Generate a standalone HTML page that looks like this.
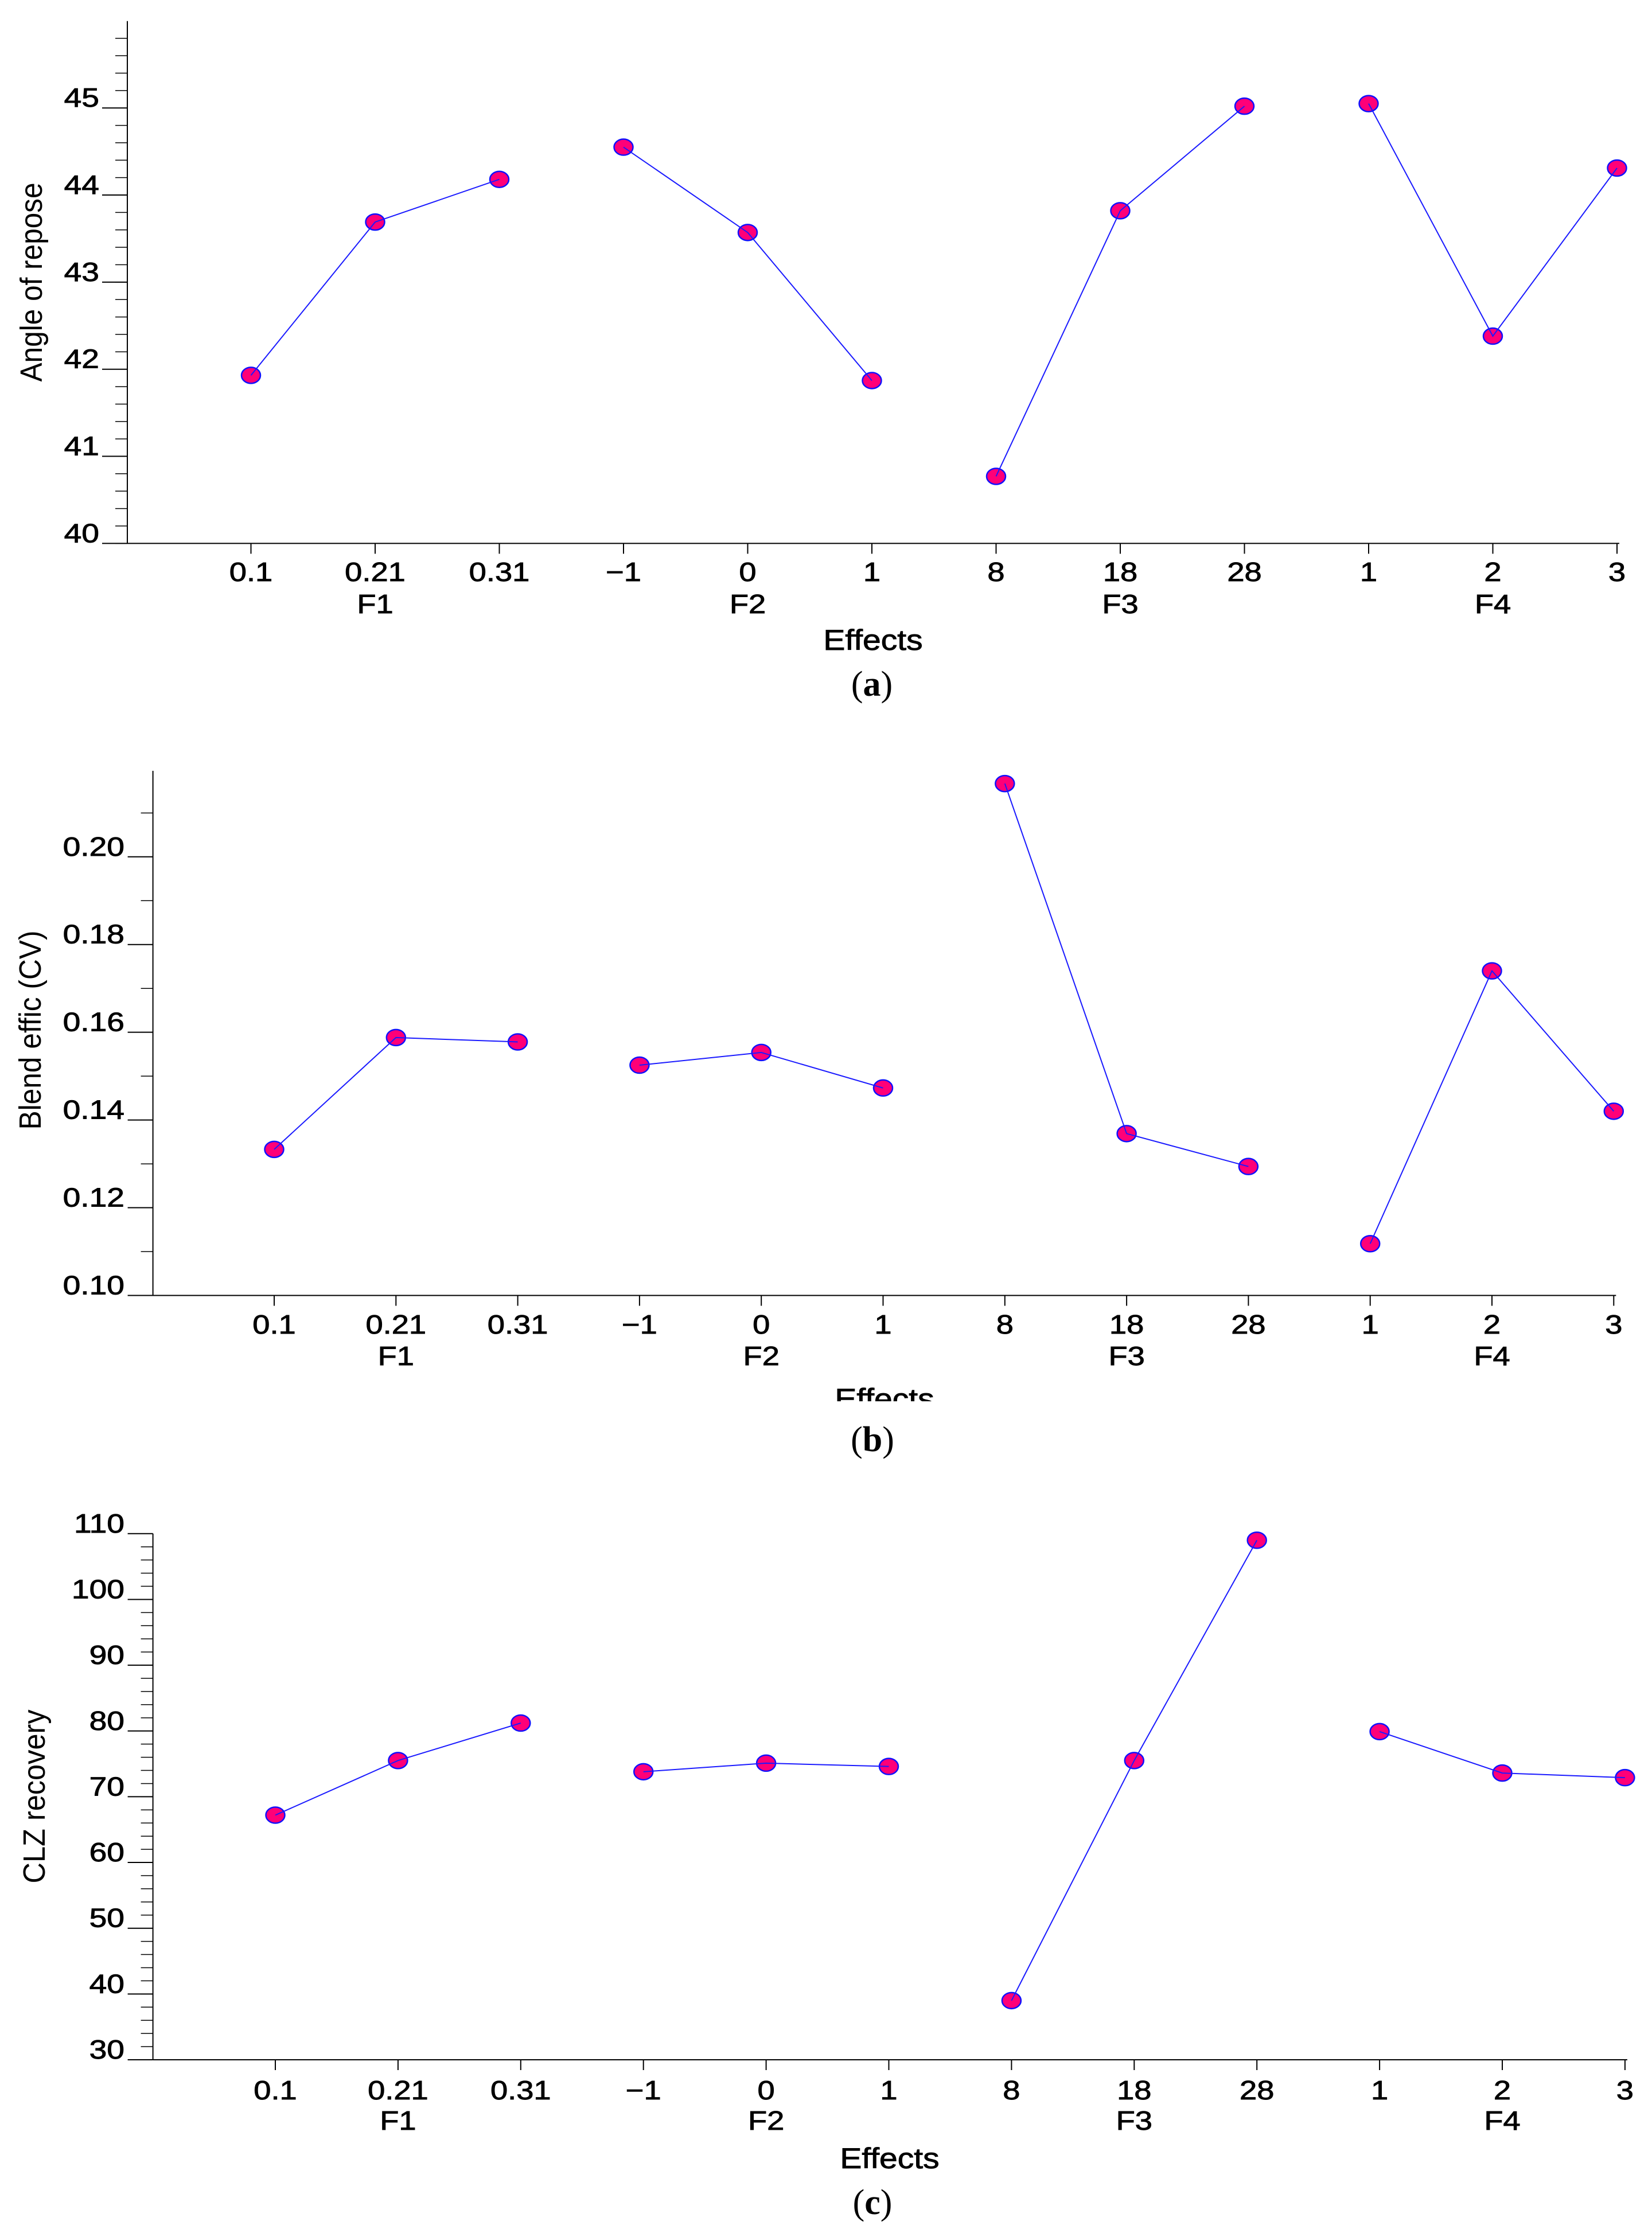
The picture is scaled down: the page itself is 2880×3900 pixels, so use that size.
<!DOCTYPE html>
<html><head><meta charset="utf-8">
<style>
html,body{margin:0;padding:0;background:#fff;}
svg{display:block;}
text{font-family:"Liberation Sans",Arial,sans-serif;fill:#000;}
text.bt{stroke:#000;stroke-width:0.9px;}
</style></head>
<body>
<svg id="chart" width="2880" height="3900" viewBox="0 0 2880 3900" xmlns="http://www.w3.org/2000/svg">
<rect x="0" y="0" width="2880" height="3900" fill="#fff"/>
</svg>
<script>
// ---- data ----
const levelLabels = ["0.1","0.21","0.31","\u22121","0","1","8","18","28","1","2","3"];
const factorNames = ["F1","F2","F3","F4"];
const angleValues = [41.93,43.69,44.18,44.55,43.57,41.87,40.77,43.82,45.02,45.05,42.38,44.31];
const blendValues = [0.1333,0.1588,0.1578,0.1525,0.1554,0.1473,0.2167,0.1369,0.1294,0.1118,0.1740,0.1420];
const clzValues = [67.2,75.5,81.2,73.8,75.1,74.6,39.0,75.5,109.0,79.9,73.6,72.9];
const angleTicks = ["40","41","42","43","44","45"];
const blendTicks = ["0.10","0.12","0.14","0.16","0.18","0.20"];
const clzTicks = ["30","40","50","60","70","80","90","100","110"];

const NS = "http://www.w3.org/2000/svg";
const svg = document.getElementById("chart");
function mk(tag, attrs, parent) {
  const e = document.createElementNS(NS, tag);
  for (const k in attrs) e.setAttribute(k, attrs[k]);
  (parent || svg).appendChild(e);
  return e;
}

const panels = [
  {id:"a", title:"Angle of repose", values:angleValues, ticks:angleTicks,
   axisX:222, bottom:947.4, yMin:40, yRefV:45, yRefPx:188.2, top:36.7,
   minorStep:0.2, minorMax:45.8, labelRight:173,
   x0:437.5, dx:216.5, tickBase:1013, facBase:1069, effBase:1133, effX:1522, capBase:1213, capX:1520,
   titleX:55, titleY:492, titleLen:347, letter:"a"},
  {id:"b", title:"Blend effic (CV)", values:blendValues, ticks:blendTicks,
   axisX:266.6, bottom:2258.5, yMin:0.10, yRefV:0.20, yRefPx:1493.8, top:1343.9,
   minorStep:0.01, minorMax:0.21, labelRight:217,
   x0:478, dx:212.3, tickBase:2325, facBase:2380, effBase:2456, effX:1542, capBase:2530, capX:1521,
   titleX:53, titleY:1796, titleLen:347, letter:"b", clipEff:2443},
  {id:"c", title:"CLZ recovery", values:clzValues, ticks:clzTicks,
   axisX:266.6, bottom:3591, yMin:30, yRefV:110, yRefPx:2673.8, top:2673.8,
   minorStep:2, minorMax:110, labelRight:217,
   x0:480, dx:213.9, tickBase:3660, facBase:3713, effBase:3780, effX:1551, capBase:3860, capX:1521,
   titleX:60, titleY:3132, titleLen:303, letter:"c"}
];

panels.forEach(p => {
  const g = mk("g", {});
  
  
  const yScale = v => p.bottom - (v - p.yMin) / (p.yRefV - p.yMin) * (p.bottom - p.yRefPx);
  const xScale = i => p.x0 + i * p.dx;
  const lastX = xScale(levelLabels.length - 1);

  const ya = mk("line", {x1:p.axisX, y1:p.top, x2:p.axisX, y2:p.bottom, stroke:"#000", "stroke-width":2}, g);
  
  
  const nMinor = Math.round((p.minorMax - p.yMin) / p.minorStep);
  for (let k = 0; k <= nMinor; k++) {
    const v = p.yMin + k * p.minorStep;
    const t = mk("line", {x1:p.axisX - 21, y1:yScale(v), x2:p.axisX, y2:yScale(v), stroke:"#000", "stroke-width":1.5}, g);
    
    
  }
  p.ticks.forEach(lbl => {
    const v = parseFloat(lbl);
    const y = yScale(v);
    const t = mk("line", {x1:p.axisX - 44, y1:y, x2:p.axisX, y2:y, stroke:"#000", "stroke-width":2}, g);
    
    
    const tx = mk("text", {class:"bt", transform:`translate(${p.labelRight},${y - 2}) scale(1.2,1)`, "font-size":46, "text-anchor":"end"}, g);
    tx.textContent = lbl;
    
    
  });

  const xa = mk("line", {x1:p.axisX, y1:p.bottom, x2:lastX + 4, y2:p.bottom, stroke:"#000", "stroke-width":2}, g);
  
  
  levelLabels.forEach((lbl, i) => {
    const x = xScale(i);
    const t = mk("line", {x1:x, y1:p.bottom, x2:x, y2:p.bottom + 18, stroke:"#000", "stroke-width":2}, g);
    
    
    const tx = mk("text", {class:"bt", transform:`translate(${x},${p.tickBase}) scale(1.18,1)`, "font-size":46, "text-anchor":"middle"}, g);
    tx.textContent = lbl;
    
    
  });
  factorNames.forEach((f, j) => {
    const x = xScale(j * 3 + 1);
    const tx = mk("text", {class:"bt", transform:`translate(${x},${p.facBase}) scale(1.18,1)`, "font-size":46, "text-anchor":"middle"}, g);
    tx.textContent = f;
    
    
  });

  const yt = mk("text", {transform:`translate(${p.titleX + 18},${p.titleY}) rotate(-90)`, "font-size":54, "text-anchor":"middle", textLength:p.titleLen, lengthAdjust:"spacingAndGlyphs"}, g);
  yt.textContent = p.title;
  
  
  const et = mk("text", {class:"bt", transform:`translate(${p.effX},${p.effBase}) scale(1.14,1)`, "font-size":50, "text-anchor":"middle"}, g);
  et.textContent = "Effects";
  
  
  if (p.clipEff) {
    const r = mk("rect", {x:p.effX - 120, y:p.clipEff, width:240, height:40, fill:"#fff"}, g);
    
    
  }
  const cap = mk("text", {x:p.capX, y:p.capBase, "font-size":62, "text-anchor":"middle", style:"font-family:'Liberation Serif',serif"}, g);
  
  
  const s1 = mk("tspan", {}, cap); s1.textContent = "(";
  const s2 = mk("tspan", {"font-weight":"bold"}, cap); s2.textContent = p.letter;
  const s3 = mk("tspan", {}, cap); s3.textContent = ")";

  p.values.forEach((v, i) => {
    const m = mk("ellipse", {cx:xScale(i), cy:yScale(v), rx:16.5, ry:14, fill:"#ff0078", stroke:"#1010ff", "stroke-width":2.5}, g);
    
    
  });
  for (let j = 0; j < 4; j++) {
    const pts = [];
    for (let k = 0; k < 3; k++) { const i = j * 3 + k; pts.push(xScale(i) + "," + yScale(p.values[i])); }
    const pl = mk("polyline", {points:pts.join(" "), fill:"none", stroke:"#1a1aff", "stroke-width":2}, g);
    
    
  }
});
</script>
</body></html>
